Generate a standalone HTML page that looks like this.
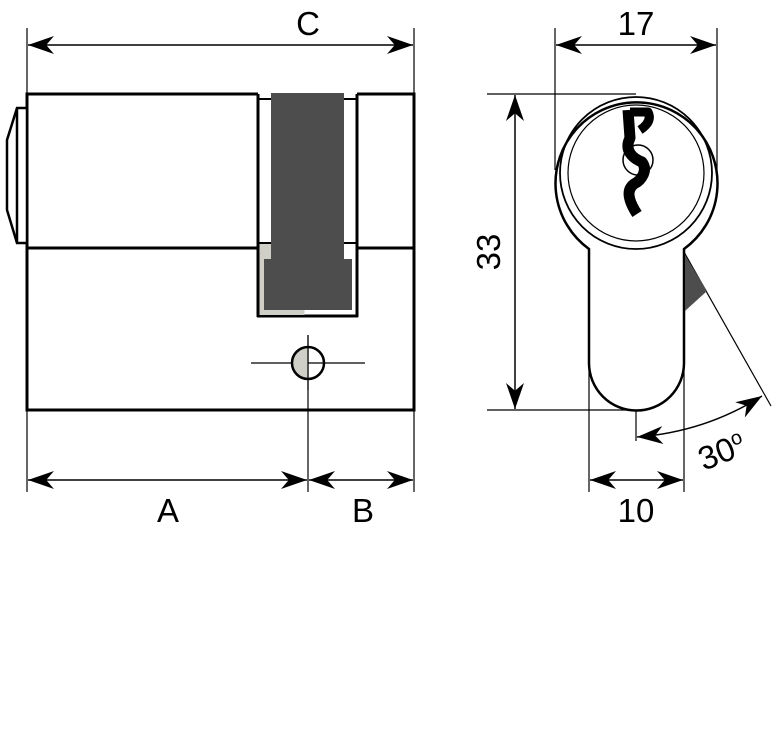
<!DOCTYPE html>
<html><head><style>body{margin:0;background:#fff}svg{display:block}</style></head><body>
<svg width="775" height="734" viewBox="0 0 775 734" xmlns="http://www.w3.org/2000/svg" font-family="Liberation Sans, sans-serif">
<defs>
<marker id="b" viewBox="0 0 10 10" refX="10" refY="5" markerWidth="26" markerHeight="18" markerUnits="userSpaceOnUse" orient="auto-start-reverse" preserveAspectRatio="none"><path d="M0,0 L10,5 L0,10 L3,5 z" fill="#000"/></marker></defs>
<g stroke="#000" fill="none">
<line x1="27" y1="28" x2="27" y2="492" stroke-width="1.2"/>
<line x1="414" y1="28" x2="414" y2="492" stroke-width="1.2"/>
<line x1="308" y1="335" x2="308" y2="492" stroke-width="1.2"/>
<line x1="251" y1="363" x2="365" y2="363" stroke-width="1.2"/>
<polyline points="258,94 27,94 27,410 414,410 414,94 357,94" stroke-width="3"/>
<line x1="27" y1="248" x2="258" y2="248" stroke-width="3"/>
<line x1="357" y1="248" x2="414" y2="248" stroke-width="3"/>
<line x1="258" y1="94" x2="258" y2="317" stroke-width="3"/>
<line x1="357" y1="94" x2="357" y2="317" stroke-width="3"/>
<line x1="258" y1="99" x2="357" y2="99" stroke-width="2"/>
<polyline points="258,243 357,243" stroke-width="2"/>
<line x1="257" y1="316" x2="358" y2="316" stroke-width="3"/>
<polygon points="27,108 17,108 7,140 7,210 17,243 27,243" fill="#fff" stroke-width="2.5"/>
<line x1="17" y1="108" x2="17" y2="243" stroke-width="2.5"/>
</g>
<rect x="259.5" y="244" width="12" height="71" fill="#cfcfc8"/>
<rect x="259.5" y="308" width="45" height="7" fill="#cfcfc8"/>
<rect x="271" y="93" width="73" height="170" fill="#4d4d4d"/>
<rect x="264" y="259" width="88" height="51" fill="#4d4d4d"/>
<path d="M308,347 A16,16 0 0 0 308,379 Z" fill="#cfcfc8"/>
<circle cx="308" cy="363" r="16" fill="none" stroke="#000" stroke-width="2.5"/>
<line x1="308" y1="335" x2="308" y2="390" stroke="#000" stroke-width="1.2"/>
<g stroke="#000" stroke-width="1.5">
<line x1="28" y1="45" x2="413" y2="45" marker-start="url(#b)" marker-end="url(#b)"/>
<line x1="28" y1="480" x2="307" y2="480" marker-start="url(#b)" marker-end="url(#b)"/>
<line x1="309" y1="480" x2="413" y2="480" marker-start="url(#b)" marker-end="url(#b)"/>
</g>
<g font-size="33" text-anchor="middle" fill="#000">
<text x="308" y="35">C</text><text x="168" y="522">A</text><text x="363" y="522">B</text>
<text x="636" y="35">17</text><text x="636" y="522">10</text>
<text transform="translate(500,252) rotate(-90)">33</text>
<text transform="translate(726,462) rotate(-22)">30<tspan font-size="20" dy="-12">o</tspan></text>
</g>
<g stroke="#000" fill="none">
<line x1="555" y1="28" x2="555" y2="170" stroke-width="1.2"/>
<line x1="717" y1="28" x2="717" y2="170" stroke-width="1.2"/>
<line x1="487" y1="94" x2="636" y2="94" stroke-width="1.2"/>
<line x1="487" y1="410" x2="636" y2="410" stroke-width="1.2"/>
<line x1="589" y1="250" x2="589" y2="492" stroke-width="1.2"/>
<line x1="684" y1="250" x2="684" y2="492" stroke-width="1.2"/>
<line x1="636" y1="410" x2="636" y2="441" stroke-width="1.2"/>
<line x1="684" y1="252" x2="771" y2="406" stroke-width="1.2"/>
<line x1="556" y1="45" x2="716" y2="45" stroke-width="1.5" marker-start="url(#b)" marker-end="url(#b)"/>
<line x1="515" y1="95" x2="515" y2="409" stroke-width="1.5" marker-start="url(#b)" marker-end="url(#b)"/>
<line x1="590" y1="480" x2="683" y2="480" stroke-width="1.5" marker-start="url(#b)" marker-end="url(#b)"/>
<path d="M637,437 Q705,432 762,396" stroke-width="1.5" marker-start="url(#b)" marker-end="url(#b)"/>
<path d="M589,249 A81,81 0 1 1 684,249 L684,363 A47.5,47.5 0 0 1 589,363 Z" fill="#fff" stroke-width="2.5"/>
<circle cx="636" cy="173" r="76" stroke-width="1.8"/>
<circle cx="636" cy="173" r="68" stroke-width="1.2"/>
<circle cx="638" cy="160" r="15" stroke-width="1.5"/>
<path d="M628,110 L630,138 C624,150 632,158 642,162 C648,170 642,180 634,184 C626,190 628,200 637,214" stroke-width="11" stroke-linejoin="round"/>
<path d="M630,112 L648,112 C652,120 646,126 640,130" stroke-width="9" stroke-linejoin="round"/>
</g>
<polygon points="685,255 707,291 685,311" fill="#4d4d4d"/>
</svg>
</body></html>
